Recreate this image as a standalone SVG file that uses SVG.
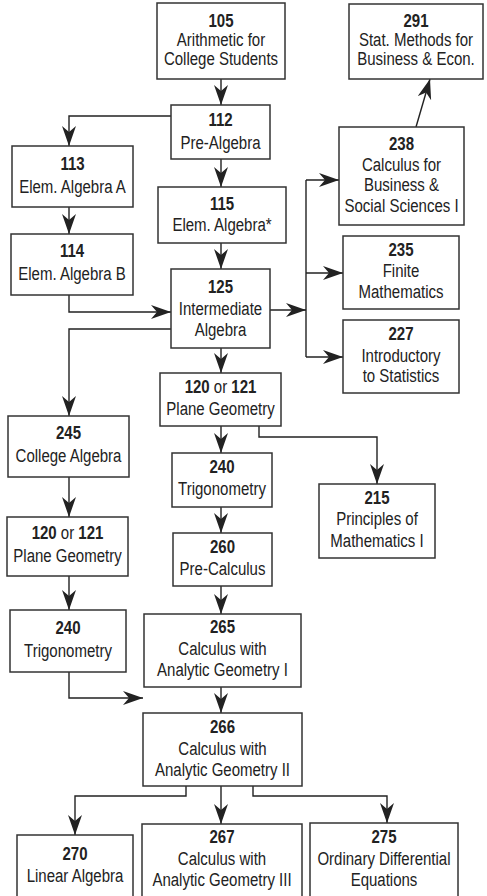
<svg xmlns="http://www.w3.org/2000/svg" width="487" height="896" viewBox="0 0 487 896">
<style>
rect{fill:#fff;stroke:#333;stroke-width:1.5}
text{font-family:"Liberation Sans",Arial,sans-serif;font-size:19px;fill:#222;text-anchor:middle}
.n{font-weight:bold}
.c path{fill:none;stroke:#222;stroke-width:1.4}
</style>
<defs>
<marker id="ah" markerUnits="userSpaceOnUse" markerWidth="22" markerHeight="16" refX="20" refY="7" orient="auto" viewBox="0 0 22 16">
<path d="M0,0 L20,7 L0,14 L6,7 Z" fill="#222"/>
</marker>
</defs>
<rect x="0" y="0" width="487" height="896" style="stroke:none"/>
<g class="c" id="connectors">
<path d="M221,79 V105" marker-end="url(#ah)"/>
<path d="M171,116 H69 V146" marker-end="url(#ah)"/>
<path d="M221,159 V187" marker-end="url(#ah)"/>
<path d="M69,207 V234" marker-end="url(#ah)"/>
<path d="M69,295 V312 H171" marker-end="url(#ah)"/>
<path d="M221,243 V269" marker-end="url(#ah)"/>
<path d="M270,310 H306" marker-end="url(#ah)"/>
<path d="M306,180 V357"/>
<path d="M306,180 H339" marker-end="url(#ah)"/>
<path d="M306,273 H343" marker-end="url(#ah)"/>
<path d="M306,357 H343" marker-end="url(#ah)"/>
<path d="M416,127 L430,79" marker-end="url(#ah)"/>
<path d="M171,329 H69 V416" marker-end="url(#ah)"/>
<path d="M221,348 V373" marker-end="url(#ah)"/>
<path d="M221,426 V453" marker-end="url(#ah)"/>
<path d="M259,426 V437 H377 V484" marker-end="url(#ah)"/>
<path d="M69,477 V517" marker-end="url(#ah)"/>
<path d="M221,507 V533" marker-end="url(#ah)"/>
<path d="M69,576 V610" marker-end="url(#ah)"/>
<path d="M221,586 V614" marker-end="url(#ah)"/>
<path d="M69,672 V698 H143" marker-end="url(#ah)"/>
<path d="M221,687 V713" marker-end="url(#ah)"/>
<path d="M186,786 V796 H75 V835" marker-end="url(#ah)"/>
<path d="M221,786 V824" marker-end="url(#ah)"/>
<path d="M253,786 V796 H387 V823" marker-end="url(#ah)"/>
</g>
<g id="n105"><rect x="157" y="3" width="128" height="76"/><g transform="matrix(0.79 0 0 1 221 0)"><text y="27" class="n">105</text><text y="46">Arithmetic for</text><text y="65">College Students</text></g></g>
<g id="n291"><rect x="349" y="4" width="134" height="75"/><g transform="matrix(0.79 0 0 1 416 0)"><text y="27" class="n">291</text><text y="46">Stat. Methods for</text><text y="65">Business &amp; Econ.</text></g></g>
<g id="n112"><rect x="171" y="105" width="99" height="54"/><g transform="matrix(0.79 0 0 1 220.5 0)"><text y="126" class="n">112</text><text y="149">Pre-Algebra</text></g></g>
<g id="n113"><rect x="12" y="146" width="121" height="61"/><g transform="matrix(0.79 0 0 1 72.5 0)"><text y="170" class="n">113</text><text y="193">Elem. Algebra A</text></g></g>
<g id="n238"><rect x="339" y="127" width="125" height="98"/><g transform="matrix(0.79 0 0 1 401.5 0)"><text y="150" class="n">238</text><text y="171">Calculus for</text><text y="191">Business &amp;</text><text y="212">Social Sciences I</text></g></g>
<g id="n115"><rect x="158" y="187" width="128" height="56"/><g transform="matrix(0.79 0 0 1 222 0)"><text y="210" class="n">115</text><text y="231">Elem. Algebra*</text></g></g>
<g id="n114"><rect x="11" y="234" width="122" height="61"/><g transform="matrix(0.79 0 0 1 72 0)"><text y="257" class="n">114</text><text y="280">Elem. Algebra B</text></g></g>
<g id="n125"><rect x="171" y="269" width="99" height="79"/><g transform="matrix(0.79 0 0 1 220.5 0)"><text y="293" class="n">125</text><text y="315">Intermediate</text><text y="336">Algebra</text></g></g>
<g id="n235"><rect x="343" y="236" width="116" height="73"/><g transform="matrix(0.79 0 0 1 401 0)"><text y="256" class="n">235</text><text y="277">Finite</text><text y="298">Mathematics</text></g></g>
<g id="n227"><rect x="343" y="320" width="116" height="73"/><g transform="matrix(0.79 0 0 1 401 0)"><text y="340" class="n">227</text><text y="362">Introductory</text><text y="382">to Statistics</text></g></g>
<g id="n120a"><rect x="160" y="373" width="121" height="53"/><g transform="matrix(0.79 0 0 1 220.5 0)"><text y="393"><tspan class="n">120</tspan> or <tspan class="n">121</tspan></text><text y="415">Plane Geometry</text></g></g>
<g id="n245"><rect x="8" y="416" width="121" height="61"/><g transform="matrix(0.79 0 0 1 68.5 0)"><text y="439" class="n">245</text><text y="462">College Algebra</text></g></g>
<g id="n240a"><rect x="172" y="453" width="100" height="54"/><g transform="matrix(0.79 0 0 1 222 0)"><text y="473" class="n">240</text><text y="495">Trigonometry</text></g></g>
<g id="n215"><rect x="319" y="484" width="116" height="74"/><g transform="matrix(0.79 0 0 1 377 0)"><text y="504" class="n">215</text><text y="525">Principles of</text><text y="547">Mathematics I</text></g></g>
<g id="n120b"><rect x="7" y="517" width="121" height="59"/><g transform="matrix(0.79 0 0 1 67.5 0)"><text y="539"><tspan class="n">120</tspan> or <tspan class="n">121</tspan></text><text y="562">Plane Geometry</text></g></g>
<g id="n260"><rect x="173" y="533" width="99" height="53"/><g transform="matrix(0.79 0 0 1 222.5 0)"><text y="553" class="n">260</text><text y="575">Pre-Calculus</text></g></g>
<g id="n240b"><rect x="10" y="610" width="116" height="62"/><g transform="matrix(0.79 0 0 1 68 0)"><text y="634" class="n">240</text><text y="657">Trigonometry</text></g></g>
<g id="n265"><rect x="144" y="614" width="157" height="73"/><g transform="matrix(0.79 0 0 1 222.5 0)"><text y="633" class="n">265</text><text y="655">Calculus with</text><text y="676">Analytic Geometry I</text></g></g>
<g id="n266"><rect x="143" y="713" width="159" height="73"/><g transform="matrix(0.79 0 0 1 222.5 0)"><text y="733" class="n">266</text><text y="755">Calculus with</text><text y="776">Analytic Geometry II</text></g></g>
<g id="n270"><rect x="17" y="835" width="116" height="70"/><g transform="matrix(0.79 0 0 1 75 0)"><text y="860" class="n">270</text><text y="882">Linear Algebra</text></g></g>
<g id="n267"><rect x="142" y="824" width="160" height="80"/><g transform="matrix(0.79 0 0 1 222 0)"><text y="843" class="n">267</text><text y="865">Calculus with</text><text y="886">Analytic Geometry III</text></g></g>
<g id="n275"><rect x="310" y="823" width="148" height="80"/><g transform="matrix(0.79 0 0 1 384 0)"><text y="843" class="n">275</text><text y="865">Ordinary Differential</text><text y="886">Equations</text></g></g>
</svg>
